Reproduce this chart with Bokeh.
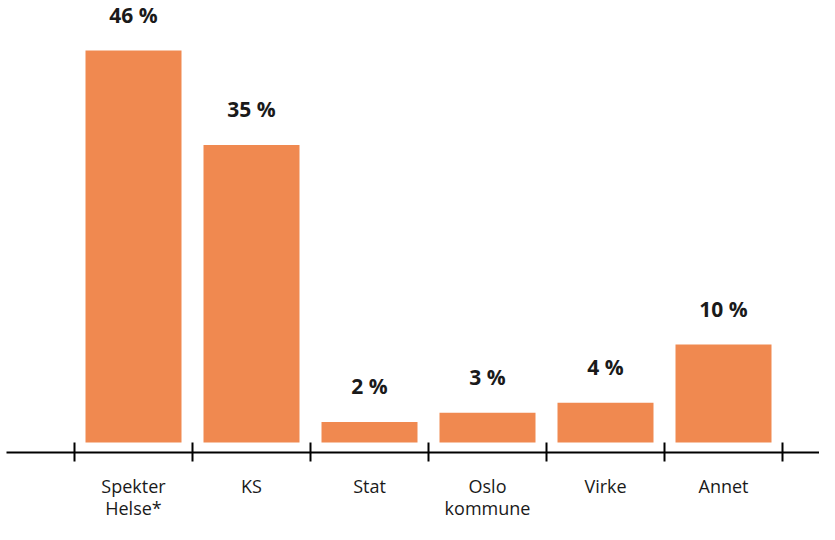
from bokeh.plotting import figure
from bokeh.models import Range1d
from bokeh.embed import file_html
from bokeh.resources import INLINE
from bokeh.core.properties import value

# ---- data ----
categories = ["Spekter\nHelse*", "KS", "Stat", "Oslo\nkommune", "Virke", "Annet"]
shares = [46.0, 34.9, 2.4, 3.5, 4.65, 11.5]
value_labels = ["46 %", "35 %", "2 %", "3 %", "4 %", "10 %"]

# ---- layout constants (pixels) ----
W, H = 819, 524
PX_PER_UNIT = 392 / 46.0
SLOT_PX = 118.0
BASE_PX = 442.0
LEFT_PX = 74.0

BAR_COLOR = "#F08950"
TEXT_COLOR = "#1a1a1a"

def py(v):
    return v / PX_PER_UNIT

def pxx(v):
    return v / SLOT_PX

n = len(categories)
centers = [i + 0.5 for i in range(n)]
bounds = list(range(n + 1))

x_start = -LEFT_PX / SLOT_PX
x_end = (W - LEFT_PX) / SLOT_PX

p = figure(
    width=W, height=H,
    x_range=Range1d(x_start, x_end),
    y_range=Range1d(-(H - BASE_PX) / PX_PER_UNIT, BASE_PX / PX_PER_UNIT),
    output_backend="svg", toolbar_location=None,
    x_axis_type=None, y_axis_type=None,
    min_border=0,
)
p.grid.visible = False
p.outline_line_color = None
p.background_fill_color = "white"
p.border_fill_color = "white"

p.vbar(x=centers, top=shares, bottom=0, width=96 / SLOT_PX,
       fill_color=BAR_COLOR, line_color=None)

# axis line
p.segment(x0=[x_start + pxx(6)], x1=[x_end], y0=[-py(10)], y1=[-py(10)],
          line_color="black", line_width=2)

# boundary ticks
p.segment(x0=bounds, x1=bounds, y0=[0] * len(bounds), y1=[-py(19)] * len(bounds),
          line_color="black", line_width=2)

p.text(x=centers, y=shares, text=value_labels, y_offset=-36,
       text_align="center", text_baseline="alphabetic",
       text_font=value("Open Sans"), text_font_style="bold",
       text_font_size="21px", text_color=TEXT_COLOR)

p.text(x=centers, y=[-py(31)] * n, text=categories,
       text_align="center", text_baseline="top",
       text_font=value("Open Sans"), text_font_size="18px",
       text_line_height=0.92, text_color=TEXT_COLOR)

open("out.html", "w").write(file_html(p, INLINE))
